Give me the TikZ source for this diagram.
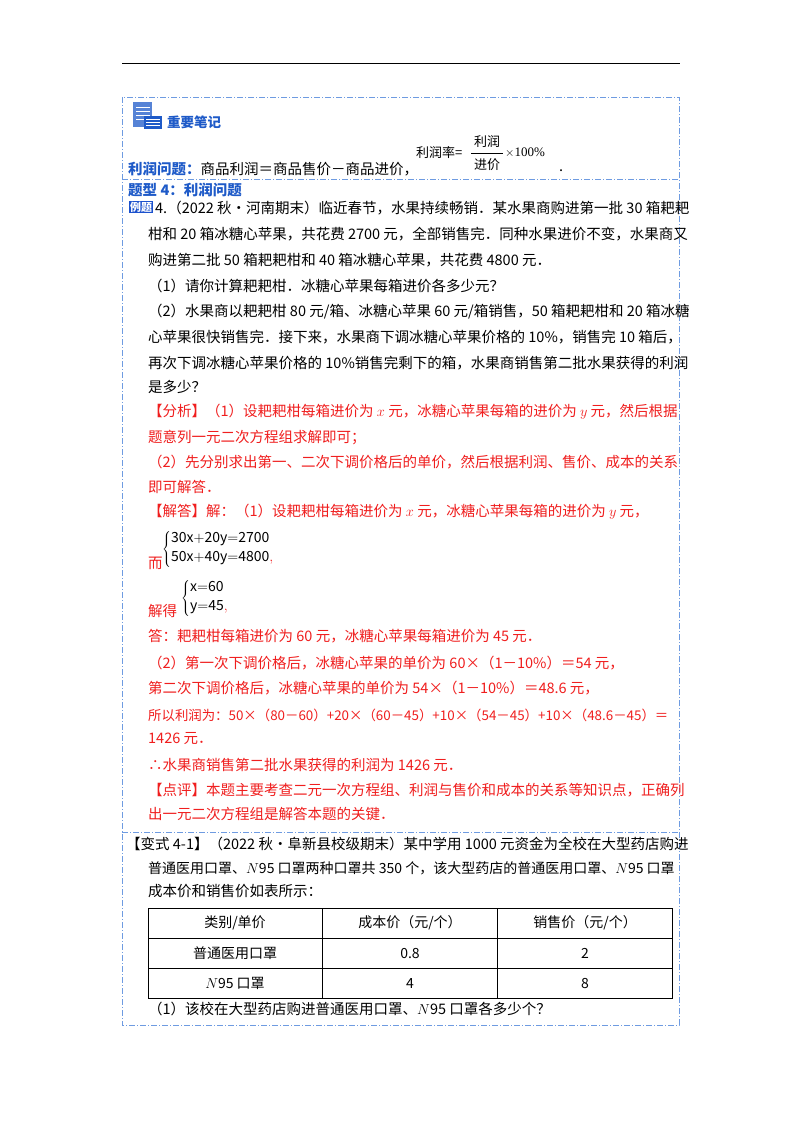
\documentclass[tikz,border=0pt]{standalone}
\usepackage{fontspec}
\setmainfont{Noto Sans CJK SC}
\newfontfamily\lib{Liberation Serif}
\begin{document}
\begin{tikzpicture}[x=1pt,y=-1pt,
  txt/.style={anchor=west,inner sep=0pt,font=\fontsize{14.5}{17}\selectfont},
  red/.style={txt,text=rd},
  cell/.style={inner sep=0pt,font=\fontsize{14}{17}\selectfont},
  sep/.style={draw=bl,line width=0.8pt,dash pattern=on 6pt off 2pt on 1pt off 2pt}]
\definecolor{rd}{RGB}{240,30,30}
\definecolor{bl}{RGB}{110,155,225}
\definecolor{hb}{RGB}{30,90,200}
\useasboundingbox (0,0) rectangle (800,1132);
\fill[white] (0,0) rectangle (800,1132);
\draw[line width=0.6pt] (122,63) -- (680,63);
% frame
\draw[sep] (122,97) rectangle (679,1025);
\draw[sep] (122,179) -- (679,179);
\draw[sep] (122,832) -- (679,832);
% icon
\fill[hb!75] (133,102) rectangle (152,127);
\foreach \yy in {107,111,115,119} \draw[white,line width=0.7pt] (136,\yy) -- (150,\yy);
\fill[hb] (144,116) rectangle (162,129);
\foreach \yy in {119,122,125} \draw[white,line width=0.7pt] (146,\yy) -- (160,\yy);
\node[txt,text=hb,font=\fontsize{13.5}{15}\bfseries\selectfont] (hd) at (167,122) {重要笔记};
% formula
\node[txt,font=\fontsize{13}{15}\selectfont] (fr) at (416,153) {利润率=};
\node[cell,font=\fontsize{13}{15}\selectfont] (num) at (487,142) {利润};
\node[cell,font=\fontsize{13}{15}\selectfont] (den) at (487,165) {进价};
\draw[line width=0.5pt] (471,153) -- (503,153);
\node[txt,font=\fontsize{13}{15}\lib\selectfont] (pc) at (505,153) {$\times$100\%};
\node[txt] (dot) at (559,171) {.};
\node[txt] (l0) at (128,169) {\textcolor{hb}{\bfseries 利润问题：}商品利润＝商品售价－商品进价，};
\node[txt,text=hb,font=\fontsize{14.5}{17}\bfseries\selectfont] (tx) at (128,190) {题型 4：利润问题};
\node[fill=hb!90!blue,text=white,inner sep=1pt,font=\fontsize{11}{13}\bfseries\selectfont] (lt) at (141,207) {例题};
\node[txt] (l1) at (155,208) {4.（2022 秋•河南期末）临近春节，水果持续畅销．某水果商购进第一批 30 箱耙耙};
\node[txt] (l2) at (148,234) {柑和 20 箱冰糖心苹果，共花费 2700 元，全部销售完．同种水果进价不变，水果商又};
\node[txt] (l3) at (148,260) {购进第二批 50 箱耙耙柑和 40 箱冰糖心苹果，共花费 4800 元．};
\node[txt] (l4) at (148,286) {（1）请你计算耙耙柑．冰糖心苹果每箱进价各多少元？};
\node[txt] (l5) at (148,312) {（2）水果商以耙耙柑 80 元/箱、冰糖心苹果 60 元/箱销售，50 箱耙耙柑和 20 箱冰糖};
\node[txt] (l6) at (148,337) {心苹果很快销售完．接下来，水果商下调冰糖心苹果价格的 10\%，销售完 10 箱后，};
\node[txt] (l7) at (148,363) {再次下调冰糖心苹果价格的 10\%销售完剩下的箱，水果商销售第二批水果获得的利润};
\node[txt] (l8) at (148,387) {是多少？};
\node[red] (r1) at (148,412) {【分析】（1）设耙耙柑每箱进价为 $x$ 元，冰糖心苹果每箱的进价为 $y$ 元，然后根据};
\node[red] (r2) at (148,438) {题意列一元二次方程组求解即可；};
\node[red] (r3) at (148,462) {（2）先分别求出第一、二次下调价格后的单价，然后根据利润、售价、成本的关系};
\node[red] (r4) at (148,487) {即可解答．};
\node[red] (r5) at (148,512) {【解答】解：（1）设耙耙柑每箱进价为 $x$ 元，冰糖心苹果每箱的进价为 $y$ 元，};
\node[red] (r6) at (148,563) {而};
\node[anchor=west,inner sep=0pt,font=\fontsize{14}{16}\lib\selectfont] (s1) at (162,549)
  {$\left\{\begin{array}{@{}l@{}}\mathrm{30x{+}20y{=}2700}\\[3pt]\mathrm{50x{+}40y{=}4800}\textcolor{rd}{,}\end{array}\right.$};
\node[red] (r7) at (148,611) {解得};
\node[anchor=west,inner sep=0pt,font=\fontsize{14}{16}\lib\selectfont] (s2) at (181,598)
  {$\left\{\begin{array}{@{}l@{}}\mathrm{x{=}60}\\[3pt]\mathrm{y{=}45}\textcolor{rd}{,}\end{array}\right.$};
\node[red] (r8) at (148,636) {答：耙耙柑每箱进价为 60 元，冰糖心苹果每箱进价为 45 元．};
\node[red] (r9) at (148,663) {（2）第一次下调价格后，冰糖心苹果的单价为 60×（1－10\%）＝54 元，};
\node[red] (r10) at (148,688) {第二次下调价格后，冰糖心苹果的单价为 54×（1－10\%）＝48.6 元，};
\node[red,font=\fontsize{13.4}{16}\selectfont] (r11) at (148,715) {所以利润为：50×（80－60）+20×（60－45）+10×（54－45）+10×（48.6－45）＝};
\node[red] (r12) at (148,739) {1426 元．};
\node[red] (r13) at (148,765) {∴水果商销售第二批水果获得的利润为 1426 元．};
\node[red] (r14) at (148,790) {【点评】本题主要考查二元一次方程组、利润与售价和成本的关系等知识点，正确列};
\node[red] (r15) at (148,814) {出一元二次方程组是解答本题的关键．};
\node[txt] (b1) at (126,844) {【变式 4-1】（2022 秋•阜新县校级期末）某中学用 1000 元资金为全校在大型药店购进};
\node[txt,font=\fontsize{14}{17}\selectfont] (b2) at (148,868) {普通医用口罩、$N$95 口罩两种口罩共 350 个，该大型药店的普通医用口罩、$N$95 口罩};
\node[txt] (b3) at (148,891) {成本价和销售价如表所示：};
% table
\draw[line width=0.8pt] (148,908) rectangle (672,998);
\draw[line width=0.8pt] (148,938) -- (672,938) (148,968) -- (672,968) (322,908) -- (322,998) (497,908) -- (497,998);
\node[cell] (c11) at (235,923) {类别/单价};
\node[cell] (c12) at (410,923) {成本价（元/个）};
\node[cell] (c13) at (585,923) {销售价（元/个）};
\node[cell] (c21) at (235,953) {普通医用口罩};
\node[cell] (c22) at (410,953) {0.8};
\node[cell] (c23) at (585,953) {2};
\node[cell] (c31) at (235,983) {$N$95 口罩};
\node[cell] (c32) at (410,983) {4};
\node[cell] (c33) at (585,983) {8};
\node[txt] (b4) at (148,1009) {（1）该校在大型药店购进普通医用口罩、$N$95 口罩各多少个？};
\end{tikzpicture}
\end{document}
